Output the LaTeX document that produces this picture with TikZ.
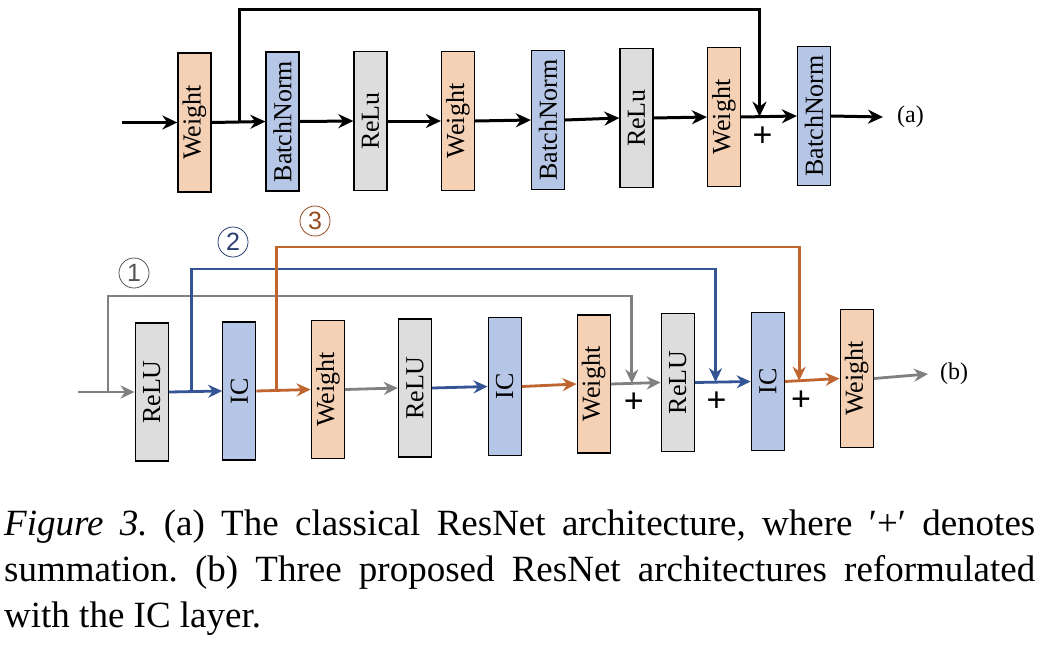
\documentclass[tikz,border=0pt]{standalone}
\usepackage{fontspec}
\setmainfont{Liberation Serif}
\newfontfamily\plusfont{Liberation Sans}
\usetikzlibrary{arrows.meta,calc,positioning}
\frenchspacing
\definecolor{weightfill}{RGB}{244,208,181}
\definecolor{normfill}{RGB}{182,198,230}
\definecolor{relufill}{RGB}{221,221,221}
\definecolor{grayline}{RGB}{128,128,128}
\definecolor{blueline}{RGB}{52,84,150}
\definecolor{orangeline}{RGB}{192,100,48}
\definecolor{tagone}{RGB}{85,85,85}
\definecolor{tagtwo}{RGB}{40,62,112}
\definecolor{tagthree}{RGB}{150,75,30}
\tikzset{
  layer/.style={draw=black, line width=1.3pt, minimum width=33pt, minimum height=139pt, inner sep=0pt, font=\fontsize{26}{26}\selectfont},
  weight/.style={layer, fill=weightfill},
  norm/.style={layer, fill=normfill},
  relu/.style={layer, fill=relufill},
  flowA/.style={line width=3pt, -{Stealth[length=15pt,width=14pt]}},
  flowB/.style={line width=2.8pt, -{Stealth[length=14pt,width=13pt]}},
  plus/.style={font=\plusfont\fontsize{34}{34}\selectfont, inner sep=0pt},
  tag/.style={font=\fontsize{24}{24}\selectfont, inner sep=0pt, anchor=west},
  numtag/.style={circle, draw, line width=0.8pt, minimum size=30pt, inner sep=0pt, font=\plusfont\fontsize{25}{25}\selectfont},
  captionline/.style={anchor=base west, inner sep=0pt, font=\fontsize{37}{46}\selectfont}
}
\begin{document}
\begin{tikzpicture}[x=1pt,y=-1pt]
\useasboundingbox (0,0) rectangle (1040,646);
% (a) classical block
\foreach \name/\x/\y/\kind/\txt in {wA1/194.5/122.5/weight/Weight, bnA1/282.5/121.5/norm/BatchNorm, rA1/370.5/121/relu/ReLu, wA2/458/121/weight/Weight, bnA2/548/120/norm/BatchNorm, rA2/636.5/118/relu/ReLu, wA3/724/117/weight/Weight, bnA3/814/116/norm/BatchNorm}
  \node [\kind] (\name) at (\x,\y) {\rotatebox{90}{\txt}};
\coordinate (inA) at (121.7,122.5);
\node [tag] (labA) at (897,117) {(a)};
\draw [flowA] (inA) -- (wA1.west);
\foreach \a/\b in {wA1/bnA1, bnA1/rA1, rA1/wA2, wA2/bnA2, bnA2/rA2, rA2/wA3, wA3/bnA3}
  \draw [flowA] (\a.east) -- (\b.west);
\draw [flowA] (bnA3.east) -- ($(labA.west)+(-14,0)$);
\coordinate (splitA) at ($(wA1.east)!0.51!(bnA1.west)$);
\coordinate (joinA) at ($(wA3.east)!0.33!(bnA3.west)$);
\coordinate (topA) at (0,9);
\draw [flowA] (splitA) -- (splitA |- topA) -| (joinA);
\node [plus] (plusA) at ($(joinA)+(3,20)$) {+};
% (b) IC variants
\foreach \name/\x/\y/\kind/\txt in {rB1/151.7/392/relu/ReLU, icB1/239.3/391/norm/IC, wB1/327.8/389.5/weight/Weight, rB2/415/388/relu/ReLU, icB2/504.7/386.5/norm/IC, wB2/593.7/384/weight/Weight, rB3/677.8/382.5/relu/ReLU, icB3/767.8/381.5/norm/IC, wB3/856.7/378.5/weight/Weight}
  \node [\kind, minimum height=138pt] (\name) at (\x,\y) {\rotatebox{90}{\txt}};
\coordinate (inB) at (78,392);
\node [tag] (labB) at (940,374) {(b)};
\draw [flowB, grayline] (inB) -- (rB1.west);
\foreach \a/\b/\c in {rB1/icB1/blueline, icB1/wB1/orangeline, wB1/rB2/grayline, rB2/icB2/blueline, icB2/wB2/orangeline, wB2/rB3/grayline, rB3/icB3/blueline, icB3/wB3/orangeline}
  \draw [flowB, \c] (\a.east) -- (\b.west);
\draw [flowB, grayline] (wB3.east) -- ($(labB.west)+(-12,0)$);
% skip connections
\coordinate (splitG) at ($(inB)!0.53!(rB1.west)$);
\coordinate (joinG) at ($(wB2.east)!0.42!(rB3.west)$);
\coordinate (topG) at (0,296);
\coordinate (splitBl) at ($(rB1.east)!0.43!(icB1.west)$);
\coordinate (joinBl) at ($(rB3.east)!0.37!(icB3.west)$);
\coordinate (topBl) at (0,269);
\coordinate (splitO) at ($(icB1.east)!0.37!(wB1.west)$);
\coordinate (joinO) at ($(icB3.east)!0.26!(wB3.west)$);
\coordinate (topO) at (0,247);
\draw [flowB, grayline] (splitG) -- (splitG |- topG) -| (joinG);
\draw [flowB, blueline] (splitBl) -- (splitBl |- topBl) -| (joinBl);
\draw [flowB, orangeline] (splitO) -- (splitO |- topO) -| (joinO);
\node [plus] (plusG) at ($(joinG)+(2,19)$) {+};
\node [plus] (plusBl) at ($(joinBl)+(1,20)$) {+};
\node [plus] (plusO) at ($(joinO)+(2,20)$) {+};
\node [numtag, draw=tagone, text=tagone] (tag1) at (134,273) {1};
\node [numtag, draw=tagtwo, text=tagtwo] (tag2) at (233,242) {2};
\node [numtag, draw=tagthree, text=tagthree] (tag3) at (315,221) {3};
% caption
\node [captionline] (cap1) at (4,535) {\makebox[1031pt][s]{\textit{Figure 3.} (a) The classical ResNet architecture, where ′+′ denotes}};
\node [captionline] (cap2) at (4,581.5) {\makebox[1031pt][s]{summation. (b) Three proposed ResNet architectures reformulated}};
\node [captionline] (cap3) at (4,627) {with the IC layer.};
\end{tikzpicture}
\end{document}
